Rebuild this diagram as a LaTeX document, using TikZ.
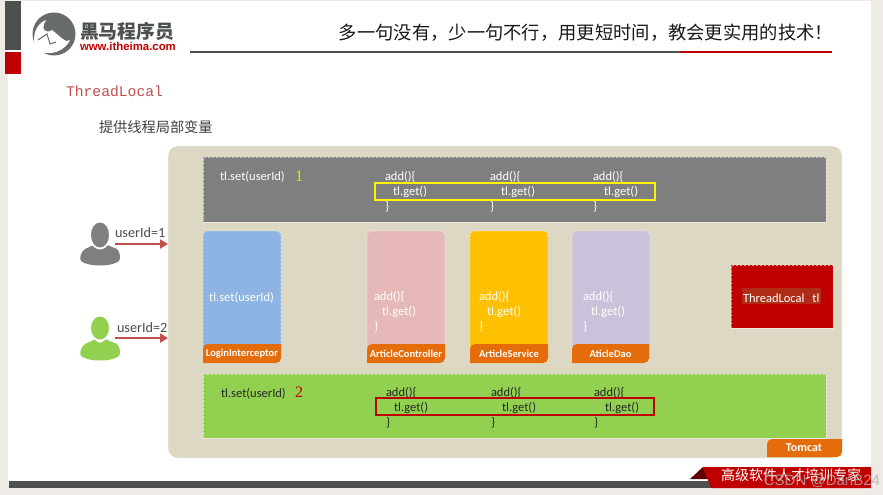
\documentclass[tikz,border=0pt]{standalone}
\usepackage{fontspec}
\setmainfont{Carlito}
\newfontfamily\cjkfont{Noto Sans CJK SC}
\newfontfamily\codefont{Liberation Mono}
\newfontfamily\numfont{Liberation Serif}
\newfontfamily\webfont{Liberation Sans}
\usetikzlibrary{arrows.meta,positioning}

\definecolor{slidegrey}{HTML}{4C5150}
\definecolor{slidered}{HTML}{C00000}
\definecolor{tomcatbg}{HTML}{DDD8C3}
\definecolor{tabfill}{HTML}{E46C0A}
\definecolor{userarrow}{HTML}{C0504D}
\definecolor{greenbox}{HTML}{92D050}
\definecolor{greybox}{HTML}{7F7F7F}
\definecolor{bluebox}{HTML}{8EB4E3}
\definecolor{pinkbox}{HTML}{E6B9B8}
\definecolor{amberbox}{HTML}{FFC000}
\definecolor{lilacbox}{HTML}{CCC1DA}

\newcommand{\tabpath}[4]{\fill[tabfill] (#1,#4) [rounded corners=5pt] -- (#1,#2) [sharp corners] -- (#3,#2) [rounded corners=5pt] -- (#3,#4) [sharp corners] -- cycle;}

\begin{document}
\begin{tikzpicture}[x=1pt,y=-1pt,>=Stealth]

    \tikzstyle{every node}=[inner sep=0pt,outer sep=0pt,font=\fontsize{12.5}{15}\selectfont]
    \tikzstyle{layer}=[anchor=north west,draw=white,draw opacity=.55,dash pattern=on 2.5pt off 1.5pt,line width=.8pt]
    \tikzstyle{column}=[layer,rounded corners=4pt,minimum width=78pt,minimum height=132pt]
    \tikzstyle{code}=[anchor=north west,align=left,text=white]
    \tikzstyle{tabtext}=[text=white,font=\fontsize{10.5}{12}\bfseries\selectfont]
    \tikzstyle{frame}=[anchor=north west,draw,line width=2pt,minimum height=17pt]
    \tikzstyle{userlink}=[-{Triangle[length=8pt,width=9pt]},userarrow,line width=2.6pt]

    \useasboundingbox (0,0) rectangle (883,495);

    % slide
    \fill[white!93!brown!90!gray] (0,0) rectangle (883,495);
    \fill[white] (8,1) rectangle (871,484);
    \fill[slidegrey] (5,1) rectangle (21,50);
    \fill[slidered] (5,52) rectangle (21,74);
    \fill[slidegrey] (9,481) rectangle (712,488);
    \draw[slidegrey,line width=2pt] (190,52.5) -- (680,52.5);
    \draw[slidered,line width=2pt] (680,52.5) -- (832,52.5);
    \fill[slidered!50!black] (690,479) -- (703,467) -- (708,479) -- cycle;
    \fill[slidered] (703,467) -- (871,467) -- (871,488) -- (711,488) -- cycle;

    % logo
    \fill[slidegrey!85] (54,34) circle (21.5);
    \fill[white] (36,50) .. controls (31,36) and (36,24) .. (46,20) .. controls (40,30) and (46,34) .. (52,30) .. controls (60,36) and (66,44) .. (70,40) .. controls (66,50) and (50,58) .. (36,50) -- cycle;
    \draw[slidegrey!85,line width=1pt] (38,40) -- (47,34) -- (50,44) -- (56,42);
    \node[anchor=west,text=slidegrey,font=\cjkfont\bfseries\fontsize{18.8}{20}\selectfont] (logoname) at (80,31) {黑马程序员};
    \node[anchor=west,text=slidered,font=\webfont\bfseries\fontsize{11.4}{13}\selectfont] (logoweb) at (80,46) {www.itheima.com};

    % titles
    \node[anchor=east,text=black!90,font=\cjkfont\fontsize{18.3}{20}\selectfont] (slogan) at (833,33) {多一句没有，少一句不行，用更短时间，教会更实用的技术！};
    \node[anchor=west,text=userarrow,font=\codefont\fontsize{14.7}{16}\selectfont] (heading) at (66,91) {ThreadLocal};
    \node[anchor=west,text=black!75,font=\cjkfont\fontsize{14.2}{16}\selectfont] (subheading) at (99,127) {提供线程局部变量};

    % tomcat
    \node[layer,fill=tomcatbg,rounded corners=10pt,minimum width=674pt,minimum height=312pt] (tomcat) at (168,146) {};
    \tabpath{767}{439}{842}{457}
    \node[tabtext,font=\fontsize{12}{14}\bfseries\selectfont] (tomcatlabel) at (804,448) {Tomcat};

    % threads
    \node[layer,fill=greybox,minimum width=623pt,minimum height=65pt] (thread1) at (203,157) {};
    \node[layer,fill=greenbox,minimum width=623pt,minimum height=64pt] (thread2) at (203,374) {};
    \node[anchor=west,text=white] (set1) at (220,177) {tl.set(userId)};
    \node[anchor=west,text=black!85] (set2) at (221,394) {tl.set(userId)};
    \node[anchor=west,text=yellow!90!green,font=\numfont\fontsize{16}{18}\selectfont] (num1) at (295,176) {1};
    \node[anchor=west,text=slidered,font=\numfont\fontsize{16}{18}\selectfont] (num2) at (295,392) {2};

    \node[code] (top1) at (385,171) {add()\{\\\hspace*{8pt}tl.get()\\\}};
    \node[code] (top2) at (490,171) {add()\{\\\hspace*{11pt}tl.get()\\\}};
    \node[code] (top3) at (593,171) {add()\{\\\hspace*{11pt}tl.get()\\\}};
    \node[frame,draw=yellow,minimum width=280pt] (frame1) at (374.5,182.5) {};
    \node[code,text=black!85] (bot1) at (386,387) {add()\{\\\hspace*{8pt}tl.get()\\\}};
    \node[code,text=black!85] (bot2) at (491,387) {add()\{\\\hspace*{11pt}tl.get()\\\}};
    \node[code,text=black!85] (bot3) at (594,387) {add()\{\\\hspace*{11pt}tl.get()\\\}};
    \node[frame,draw=slidered,minimum width=278pt] (frame2) at (375.5,397.5) {};

    % layers
    \node[column,fill=bluebox] (login) at (203,231) {};
    \node[column,fill=pinkbox] (controller) at (367,231) {};
    \node[column,fill=amberbox] (service) at (470,231) {};
    \node[column,fill=lilacbox] (dao) at (572,231) {};
    \node[text=white] (loginset) at (241.5,298) {tl.set(userId)};
    \node[code] (ctrlcode) at (374,291.5) {add()\{\\\hspace*{8pt}tl.get()\\\}};
    \node[code] (servcode) at (479,291.5) {add()\{\\\hspace*{8pt}tl.get()\\\}};
    \node[code] (daocode) at (583,291.5) {add()\{\\\hspace*{8pt}tl.get()\\\}};
    \tabpath{203}{344}{281}{363}
    \tabpath{367}{344}{445}{363}
    \tabpath{470}{344}{548}{363}
    \tabpath{572}{344}{649}{363}
    \node[tabtext] (loginlabel) at (242,354) {LoginInterceptor};
    \node[tabtext] (ctrllabel) at (406,354) {ArticleController};
    \node[tabtext] (servlabel) at (509,354) {ArticleService};
    \node[tabtext] (daolabel) at (610.5,354) {AticleDao};

    % threadlocal
    \node[layer,fill=slidered,minimum width=102pt,minimum height=63pt] (localbox) at (731,265) {};
    \fill[black!35!red!65!brown] (742,288) rectangle (821,304);
    \node[anchor=west,text=white] (locallabel) at (743,298) {ThreadLocal\hspace{8pt}tl};

    % users
    \fill[greybox] (85,249) .. controls (90,247) and (95,244) .. (95,244) .. controls (97,249) and (103,249) .. (105,244) .. controls (105,244) and (112,247) .. (117,249) .. controls (120,252) and (121,258) .. (119,261) .. controls (112,267) and (88,267) .. (81,261) .. controls (79,258) and (81,252) .. (85,249) -- cycle;
    \fill[white] (100,235) ellipse (11 and 14.5);
    \fill[greybox] (100,235) ellipse (9 and 12.5);
    \fill[greenbox] (85,344) .. controls (90,342) and (95,339) .. (95,339) .. controls (97,344) and (103,344) .. (105,339) .. controls (105,339) and (112,342) .. (117,344) .. controls (120,347) and (121,353) .. (119,356) .. controls (112,362) and (88,362) .. (81,356) .. controls (79,353) and (81,347) .. (85,344) -- cycle;
    \fill[white] (100,328) ellipse (11 and 13.5);
    \fill[greenbox] (100,328) ellipse (9 and 11.5);
    \coordinate (user1) at (115,244);
    \coordinate (user2) at (115,338);
    \draw[userlink] (user1) -- (user1 -| tomcat.west);
    \draw[userlink] (user2) -- (user2 -| tomcat.west);
    \node[anchor=west,text=black!70,font=\fontsize{14.2}{16}\selectfont] (userlabel1) at (115,233) {userId=1};
    \node[anchor=west,text=black!70,font=\fontsize{14.2}{16}\selectfont] (userlabel2) at (117,328) {userId=2};

    % footer
    \node[anchor=west,text=white,font=\cjkfont\fontsize{14}{16}\selectfont] (footer) at (721,475) {高级软件人才培训专家};
    \node[anchor=east,text=black!30,opacity=.8,font=\webfont\fontsize{15}{17}\selectfont] (watermark) at (880,481) {CSDN @DanB24};

\end{tikzpicture}
\end{document}
